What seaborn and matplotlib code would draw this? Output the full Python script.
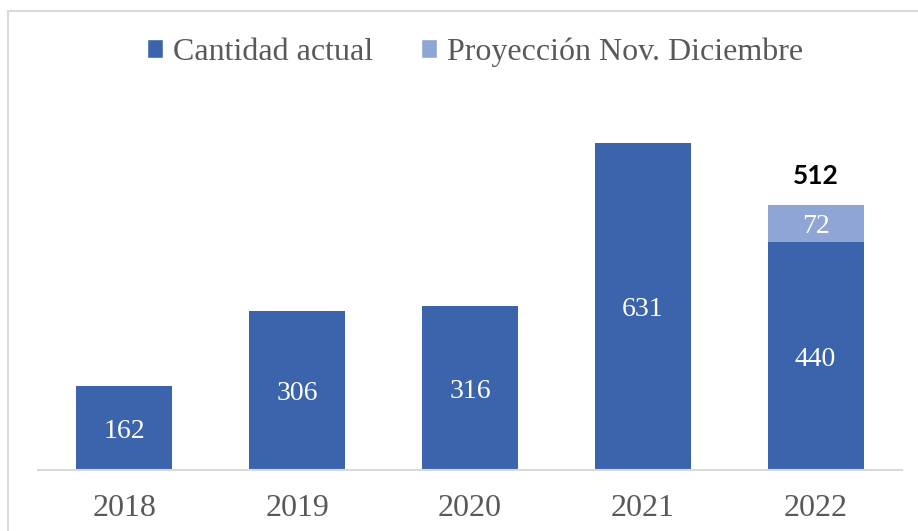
import matplotlib
matplotlib.use("Agg")
import matplotlib.pyplot as plt
from matplotlib.patches import Patch, Rectangle
import seaborn as sns
import pandas as pd

# data
years = ["2018", "2019", "2020", "2021", "2022"]
actual = [162, 306, 316, 631, 440]
projection = [0, 0, 0, 0, 72]
totals = [a + p for a, p in zip(actual, projection)]

DARK = "#3B64AD"
LIGHT = "#8FA5D6"
GREY = "#595959"
SERIF = "Liberation Serif"

df = pd.DataFrame({"year": years, "actual": actual, "total": totals})

sns.set_style("white")
plt.rcParams["font.family"] = [SERIF, "DejaVu Serif"]

fig = plt.figure(figsize=(9.18, 5.31), dpi=100)
ax = fig.add_axes([38 / 918, 1 - 470 / 531, 864 / 918, (470 - 107.4) / 531])

# stacked look: total bar first (light), actual bar on top (dark)
sns.barplot(data=df, x="year", y="total", color=LIGHT, width=0.556,
            saturation=1, linewidth=0, ax=ax)
sns.barplot(data=df, x="year", y="actual", color=DARK, width=0.556,
            saturation=1, linewidth=0, ax=ax)

labels = ax.bar_label(ax.containers[1], label_type="center", color="white",
                      fontsize=20, family=SERIF)
for t in labels:
    t.set_va("center_baseline")

# projection segment label and total above the stacked bar
for i, (a, p, t) in enumerate(zip(actual, projection, totals)):
    if p > 0:
        ax.text(i, a + p / 2, str(p), ha="center", va="center_baseline",
                color="white", fontsize=20, family=SERIF)
        ax.annotate(str(t), (i, t), xytext=(0, 12), textcoords="offset points",
                    ha="center", va="bottom", fontsize=19, fontweight="bold",
                    family="Lato", color="black")

ax.set_xlim(-0.5, 4.5)
ax.set_ylim(0, 700)
ax.set_yticks([])
ax.set_xlabel("")
ax.set_ylabel("")
for s in ["top", "left", "right"]:
    ax.spines[s].set_visible(False)
ax.spines["bottom"].set_color("#D9D9D9")
ax.spines["bottom"].set_linewidth(1.5)
ax.tick_params(axis="x", length=0, pad=17, labelsize=23, labelcolor=GREY)

handles = [Patch(facecolor=DARK, label="Cantidad actual"),
           Patch(facecolor=LIGHT, label="Proyección Nov. Diciembre")]
fig.legend(handles=handles, loc="center", bbox_to_anchor=(475 / 918, 1 - 52 / 531),
           ncol=2, frameon=False, labelcolor=GREY,
           handlelength=0.5, handleheight=0.5, handletextpad=0.3,
           columnspacing=1.5, prop={"family": SERIF, "size": 23})

# outer chart border (right and bottom run off the image)
fig.patches.append(Rectangle((8 / 918, -0.1), 1.2, 1.1 - 11 / 531,
                             transform=fig.transFigure, fill=False,
                             edgecolor="#D9D9D9", linewidth=1.5))

fig.savefig("out.png", dpi=100)
